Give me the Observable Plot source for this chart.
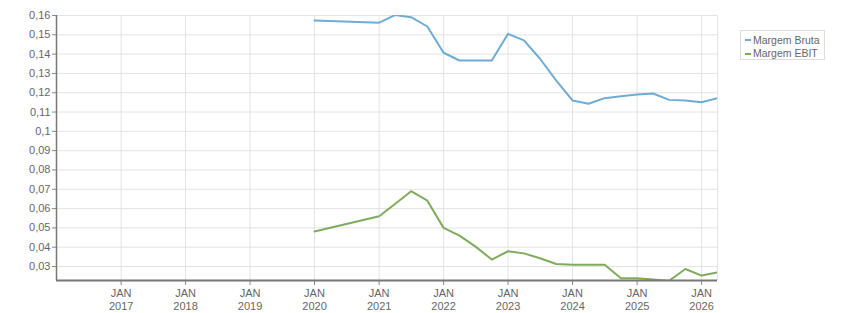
<!DOCTYPE html>
<html>
<head>
<meta charset="utf-8">
<script src="https://cdn.jsdelivr.net/npm/d3@7"></script>
<script src="https://cdn.jsdelivr.net/npm/@observablehq/plot@0.6"></script>
<style>
  body { margin: 0; background: #fff; }
  #wrap { position: relative; width: 851px; height: 313px; }
  #legend {
    position: absolute; left: 740px; top: 30px; width: 83px; height: 28px;
    border: 1px solid #ddd; font: 10.5px "Liberation Sans", Arial, sans-serif; color: #666;
  }
  #legend .row { position: absolute; left: 4px; white-space: nowrap; line-height: 12px; }
  #legend .sw { display: inline-block; width: 6px; height: 2px; vertical-align: middle; margin-right: 2px; position: relative; top: -1px; }
</style>
</head>
<body>
<div id="wrap"></div>
<script>
const dates = ["2020-01","2021-01","2021-04","2021-07","2021-10","2022-01","2022-04","2022-07","2022-10","2023-01","2023-04","2023-07","2023-10","2024-01","2024-04","2024-07","2024-10","2025-01","2025-04","2025-07","2025-10","2026-01","2026-04"];
const margemBruta = [0.1574,0.1563,0.1602,0.1591,0.1543,0.1407,0.1367,0.1367,0.1367,0.1505,0.1471,0.1376,0.1263,0.1160,0.1143,0.1172,0.1182,0.1191,0.1196,0.1163,0.1160,0.1151,0.1172];
const margemEbit = [0.0481,0.0560,0.0624,0.0690,0.0641,0.0500,0.0460,0.0403,0.0336,0.0379,0.0368,0.0343,0.0313,0.0309,0.0309,0.0309,0.0239,0.0239,0.0233,0.0226,0.0287,0.0253,0.0270];
const xTickYears = [2017,2018,2019,2020,2021,2022,2023,2024,2025,2026];
const yTicks = [0.03,0.04,0.05,0.06,0.07,0.08,0.09,0.10,0.11,0.12,0.13,0.14,0.15,0.16];
const seriesNames = ["Margem Bruta","Margem EBIT"];
const colors = ["#6fabd2","#7fac5c"];

const parse = s => { const [y,m] = s.split("-").map(Number); return new Date(Date.UTC(y, m-1, 1)); };
const rows = [];
dates.forEach((d,i) => {
  rows.push({date: parse(d), value: margemBruta[i], series: seriesNames[0]});
  rows.push({date: parse(d), value: margemEbit[i], series: seriesNames[1]});
});
const xTicks = xTickYears.map(y => new Date(Date.UTC(y,0,1)));
const xMin = new Date(Date.UTC(2016,0,1)), xMax = new Date(Date.UTC(2026,3,1));
const yMin = 0.02275, yMax = 0.16;

const chart = Plot.plot({
  width: 851, height: 313,
  marginLeft: 56, marginRight: 134, marginTop: 15, marginBottom: 33,
  style: {fontFamily: "'Liberation Sans', Arial, sans-serif", fontSize: "11px", color: "#666", background: "#fff"},
  x: {type: "utc", domain: [xMin, xMax]},
  y: {domain: [yMin, yMax]},
  color: {domain: seriesNames, range: colors},
  marks: [
    Plot.gridX(xTicks, {stroke: "#e3e3e3", strokeOpacity: 1}),
    Plot.gridY(yTicks, {stroke: "#e3e3e3", strokeOpacity: 1}),
    Plot.ruleX([xMax], {stroke: "#e3e3e3"}),
    Plot.axisY(yTicks, {tickSize: 4, tickPadding: 2, stroke: "#888", fill: "#666",
      tickFormat: d => String(+d.toFixed(2)).replace(".", ","), label: null}),
    Plot.axisX(xTicks, {tickSize: 5, tickPadding: 2, stroke: "#888", fill: "#666", lineHeight: 1.2,
      tickFormat: d => `JAN\n${d.getUTCFullYear()}`, label: null}),
    Plot.line(rows, {x: "date", y: "value", stroke: "series", strokeWidth: 2, clip: true}),
    Plot.ruleX([xMin], {stroke: "#777", strokeWidth: 1.5}),
    Plot.ruleY([yMin], {stroke: "#777", strokeWidth: 2})
  ]
});
const wrap = document.getElementById("wrap");
wrap.appendChild(chart);
const lg = document.createElement("div");
lg.id = "legend";
seriesNames.forEach((n,i) => {
  const r = document.createElement("div");
  r.className = "row";
  r.style.top = (3 + i*13.4) + "px";
  r.innerHTML = `<span class="sw" style="background:${colors[i]}"></span>${n}`;
  lg.appendChild(r);
});
wrap.appendChild(lg);
</script>
</body>
</html>
